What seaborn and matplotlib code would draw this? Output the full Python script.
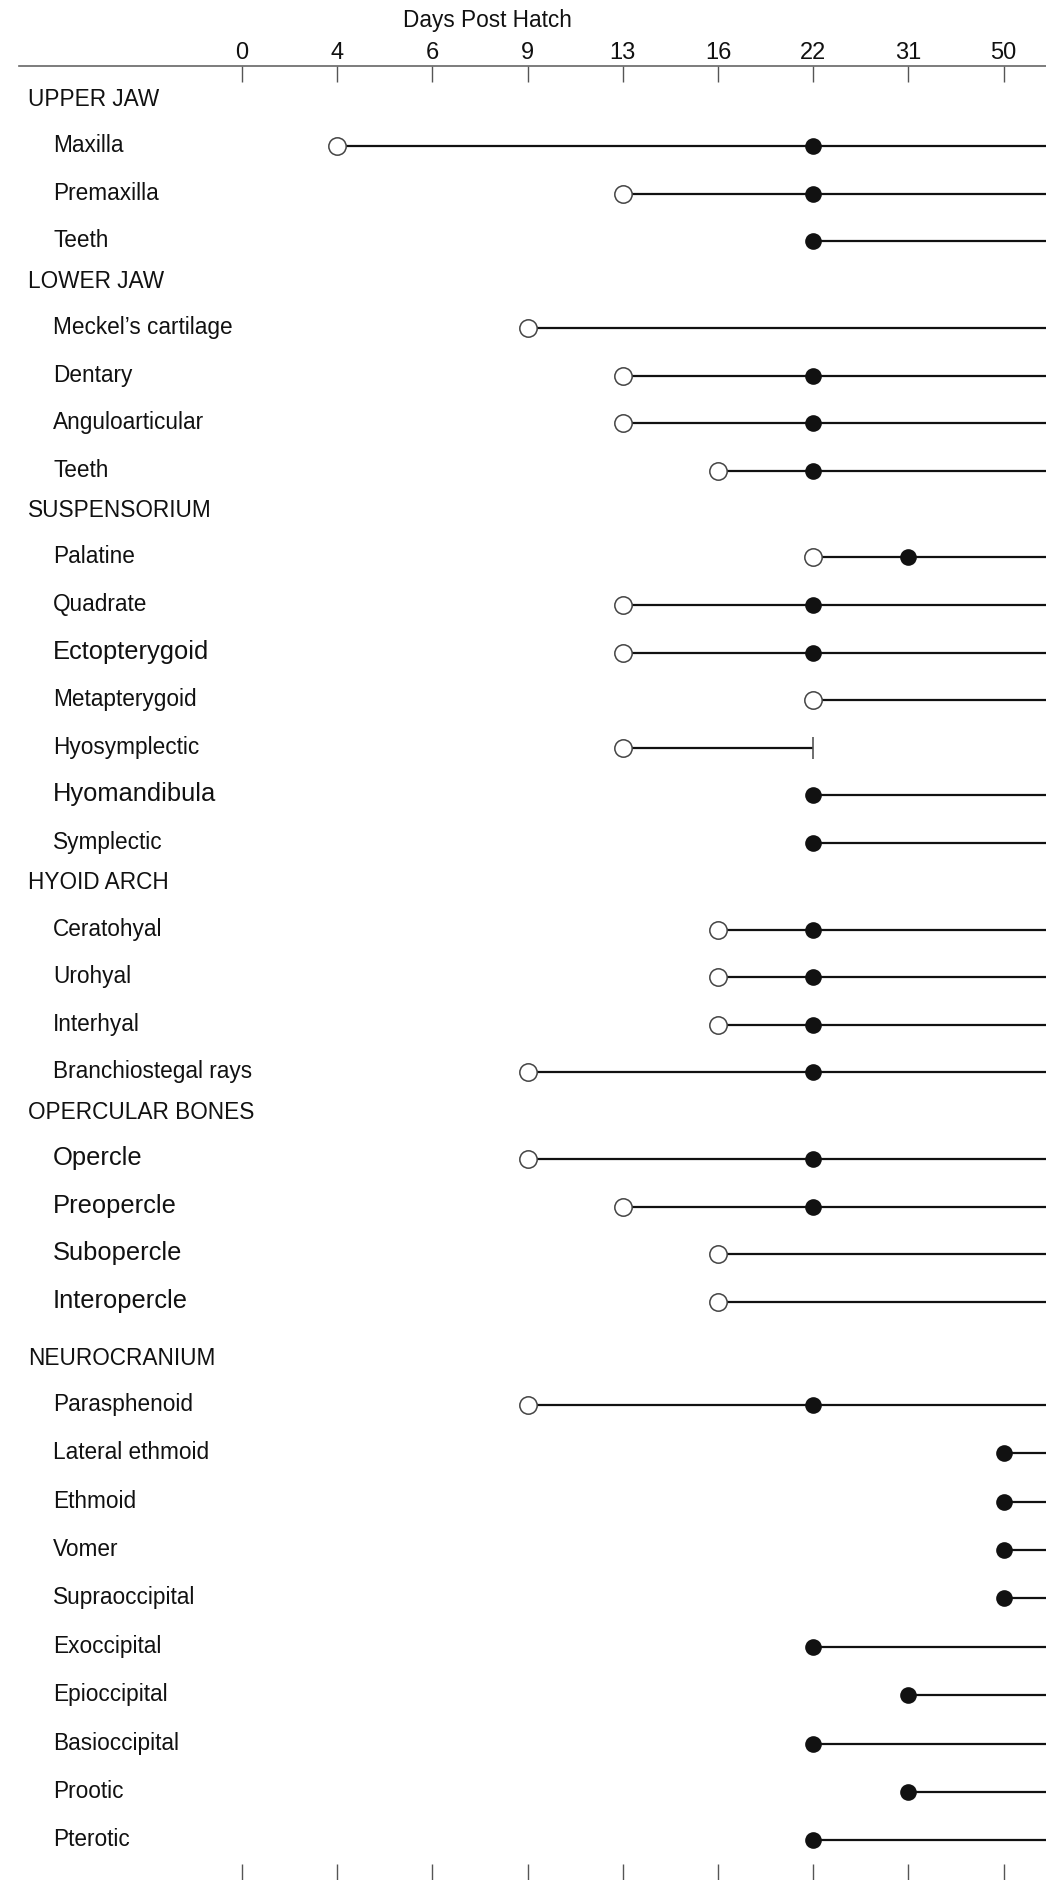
import numpy as np
import pandas as pd
import seaborn as sns
import matplotlib
matplotlib.use("Agg")
import matplotlib.pyplot as plt
from matplotlib.transforms import offset_copy

# x axis categories (days post hatch)
days = ['0', '4', '6', '9', '13', '16', '22', '31', '50']

groups = ['UPPER JAW', 'LOWER JAW', 'SUSPENSORIUM', 'HYOID ARCH',
          'OPERCULAR BONES', 'NEUROCRANIUM']

elements = ['Maxilla', 'Premaxilla', 'Teeth',
            "Meckel\u2019s cartilage", 'Dentary', 'Anguloarticular', 'Teeth',
            'Palatine', 'Quadrate', 'Ectopterygoid', 'Metapterygoid',
            'Hyosymplectic', 'Hyomandibula', 'Symplectic',
            'Ceratohyal', 'Urohyal', 'Interhyal', 'Branchiostegal rays',
            'Opercle', 'Preopercle', 'Subopercle', 'Interopercle',
            'Parasphenoid', 'Lateral ethmoid', 'Ethmoid', 'Vomer',
            'Supraoccipital', 'Exoccipital', 'Epioccipital', 'Basioccipital',
            'Prootic', 'Pterotic']
element_group = [0, 0, 0,
                 1, 1, 1, 1,
                 2, 2, 2, 2, 2, 2, 2,
                 3, 3, 3, 3,
                 4, 4, 4, 4,
                 5, 5, 5, 5, 5, 5, 5, 5, 5, 5]
# open circle = first appearance, filled circle = ossified
first_seen = ['4', '13', None,
              '9', '13', '13', '16',
              '22', '13', '13', '22', '13', None, None,
              '16', '16', '16', '9',
              '9', '13', '16', '16',
              '9', None, None, None, None, None, None, None, None, None]
ossified = ['22', '22', '22',
            None, '22', '22', '22',
            '31', '22', '22', None, None, '22', '22',
            '22', '22', '22', '22',
            '22', '22', None, None,
            '22', '50', '50', '50', '50', '22', '31', '22', '31', '22']
# last day for elements that stop (None = continues)
last_day = [None] * len(elements)
last_day[elements.index('Hyosymplectic')] = '22'

big_labels = {'Ectopterygoid', 'Hyomandibula', 'Opercle', 'Preopercle',
              'Subopercle', 'Interopercle'}

# row layout
row_y, head_y = [], []
u = 0.0
for g in range(len(groups)):
    if g > 0:
        u += 1.19 if groups[g] == 'NEUROCRANIUM' else 0.85
    head_y.append(u)
    u += 0.97
    gap = 1.017 if groups[g] == 'NEUROCRANIUM' else 1.0
    first = True
    for eg in element_group:
        if eg != g:
            continue
        if not first:
            u += gap
        row_y.append(u)
        first = False

df = pd.DataFrame({'element': elements, 'y': row_y,
                   'first_seen': first_seen, 'ossified': ossified,
                   'last_day': last_day})

sns.set_style('white')
plt.rcParams['font.family'] = ['Liberation Sans', 'DejaVu Sans']

W, H = 1046, 1881
fig = plt.figure(figsize=(W / 100, H / 100), dpi=100)
ax = fig.add_axes([19 / W, 0, 1 - 19 / W, 1 - 67 / H])

step = 47.6
ink = '#111111'
open_df = df.dropna(subset=['first_seen'])
fill_df = df.dropna(subset=['ossified'])
end_df = df.dropna(subset=['last_day'])

sns.stripplot(data=fill_df, x='ossified', y='y', order=days, jitter=False,
              color=ink, size=12, linewidth=0, ax=ax, zorder=4)
sns.stripplot(data=open_df, x='first_seen', y='y', order=days, jitter=False,
              color='white', edgecolor='#444444', size=12.5, linewidth=1.1,
              ax=ax, zorder=4)
sns.stripplot(data=end_df, x='last_day', y='y', order=days, jitter=False,
              color='#555555', marker='|', size=16, linewidth=1.2, ax=ax,
              zorder=3)

x_left = (19 - 242) / 95.2
x_right = (W - 242) / 95.2
ax.set_xlim(x_left, x_right)
ax.set_ylim((H - 101) / step, (67 - 101) / step)

for _, r in df.iterrows():
    start = r['first_seen'] if r['first_seen'] is not None else r['ossified']
    x0 = days.index(start)
    x1 = days.index(r['last_day']) if r['last_day'] is not None else x_right
    ax.hlines(r['y'], x0, x1, color=ink, lw=1.6, zorder=2)

# row labels
lab_tr = offset_copy(ax.get_yaxis_transform(), fig=fig, x=0, y=-5, units='dots')
for name, y in zip(groups, head_y):
    ax.text((28 - 19) / (W - 19), y, name, transform=lab_tr, fontsize=16.3,
            color=ink, va='baseline', ha='left')
for name, y in zip(elements, row_y):
    fs = 18.4 if name in big_labels else 16.3
    ax.text((53 - 19) / (W - 19), y, name, transform=lab_tr, fontsize=fs,
            color=ink, va='baseline', ha='left')

ax.set_xlabel('')
ax.set_ylabel('')
ax.set_yticks([])
ax.xaxis.tick_top()
ax.set_xticks(range(len(days)))
ax.set_xticklabels(days)
ax.tick_params(axis='x', which='major', direction='in', length=11.5, width=1,
               color='#555555', labelsize=17, pad=2.5, labelcolor=ink,
               top=True, bottom=True, labeltop=True, labelbottom=False)
for side in ['left', 'right', 'bottom']:
    ax.spines[side].set_visible(False)
ax.spines['top'].set_color('#666666')
ax.spines['top'].set_linewidth(1.2)

fig.text(487 / W, 1 - 21 / H, 'Days Post Hatch', ha='center', va='center',
         fontsize=16.3, color=ink)

fig.savefig('out.png', dpi=100)
